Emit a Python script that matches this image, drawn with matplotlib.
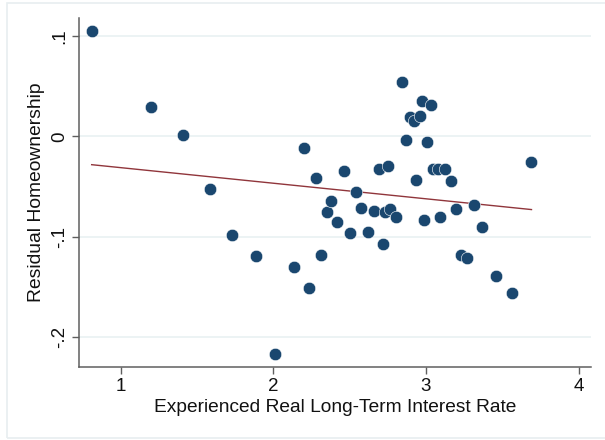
import numpy as np
import matplotlib
matplotlib.use("Agg")
import matplotlib.pyplot as plt
from matplotlib.patches import Rectangle

plt.rcParams["font.family"] = ["Liberation Sans", "DejaVu Sans"]

# values
rate = [0.81, 1.197, 1.41, 1.582, 1.732, 1.884, 2.137, 2.200, 2.235, 2.013,
        2.278, 2.309, 2.349, 2.377, 2.420, 2.463, 2.504, 2.544, 2.577, 2.623,
        2.661, 2.694, 2.716, 2.734, 2.752, 2.765, 2.803, 2.846, 2.871, 2.896,
        2.922, 2.959, 2.937, 2.975, 2.990, 3.008, 3.035, 3.048, 3.076, 3.094,
        3.122, 3.162, 3.197, 3.228, 3.271, 3.316, 3.370, 3.456, 3.565, 3.691]
resid = [0.105, 0.0291, 0.0013, -0.0523, -0.0983, -0.1192, -0.1301, -0.0113, -0.151, -0.2162,
         -0.0414, -0.1185, -0.0752, -0.0646, -0.0848, -0.0341, -0.0957, -0.0553, -0.0709, -0.0950,
         -0.0742, -0.0328, -0.1070, -0.0752, -0.0295, -0.0722, -0.0798, 0.0540, -0.0036, 0.0192,
         0.0156, 0.0199, -0.0434, 0.0358, -0.0831, -0.0060, 0.0311, -0.0321, -0.0321, -0.0805,
         -0.0325, -0.0444, -0.0719, -0.1185, -0.1212, -0.0679, -0.0904, -0.1394, -0.1560, -0.0255]

# fitted line end points
fit_x = [0.81, 3.691]
fit_y = [-0.0281, -0.0728]

x_ticks = [1, 2, 3, 4]
y_ticks = [0.1, 0, -0.1, -0.2]
y_ticklabels = [".1", "0", "-.1", "-.2"]

navy = "#1a476f"
maroon = "#90353b"
grid_col = "#eaf2f3"
axis_col = "#5f5f5f"

fig = plt.figure(figsize=(6.05, 4.40), dpi=100)
# faint outer frame of the graph region
fig.patches.append(Rectangle((7 / 605, 2 / 440), 1.0, 435 / 440, transform=fig.transFigure,
                             facecolor="none", edgecolor="#e8eef0", linewidth=1.2))

ax = fig.add_axes([0.1311, 0.1666, 0.8453, 0.7925])
ax.set_facecolor("none")

for yv in y_ticks:
    ax.axhline(yv, color=grid_col, linewidth=1.3, zorder=0)

ax.plot(fit_x, fit_y, color=maroon, linewidth=1.0, zorder=2)
ax.scatter(rate, resid, s=80, color=navy, edgecolors="white", linewidths=0.4, zorder=3)

ax.set_xlim(0.729, 4.079)
ax.set_ylim(-0.2293, 0.118)

ax.set_xticks(x_ticks)
ax.set_xticklabels([str(t) for t in x_ticks])
ax.set_yticks(y_ticks)
ax.set_yticklabels(y_ticklabels, rotation=90, va="center")

for side in ["top", "right"]:
    ax.spines[side].set_visible(False)
for side in ["left", "bottom"]:
    ax.spines[side].set_color(axis_col)
    ax.spines[side].set_linewidth(1.1)

ax.tick_params(axis="both", direction="out", length=4.8, width=1.0, color=axis_col,
               labelsize=13.5, labelcolor="#111111", pad=3)

ax.set_xlabel("Experienced Real Long-Term Interest Rate", fontsize=13.8, color="#111111", labelpad=3)
ax.set_ylabel("Residual Homeownership", fontsize=13.9, color="#111111", labelpad=5)

fig.savefig("out.png", dpi=100)
